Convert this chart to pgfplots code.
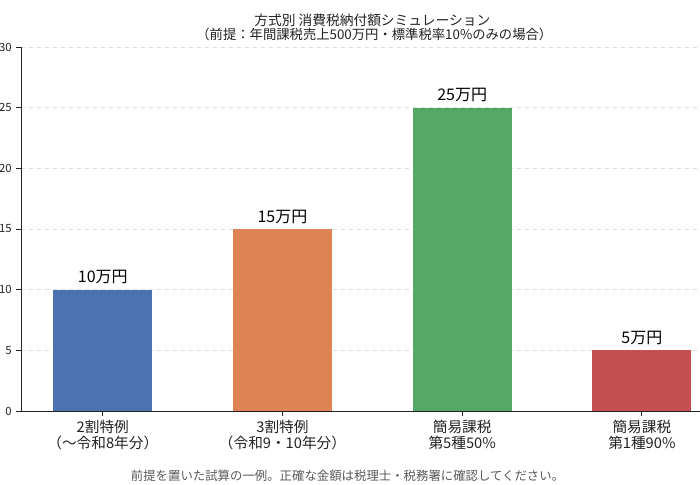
\documentclass[border=0pt]{standalone}
\usepackage{pgfplots}
\usepackage{fontspec}
\setmainfont{Noto Sans CJK JP}
\pgfplotsset{compat=1.18}
\usetikzlibrary{calc}

\definecolor{cblue}{HTML}{4C72B0}
\definecolor{corange}{HTML}{DD8452}
\definecolor{cgreen}{HTML}{55A868}
\definecolor{cred}{HTML}{C44E52}
\definecolor{gridgray}{HTML}{DDDDDD}
\definecolor{txt}{HTML}{222222}

\begin{document}
\begin{tikzpicture}
\begin{axis}[
    name=ax,
    at={(0,0)}, anchor=south west,
    scale only axis,
    width=527pt, height=273pt,
    xmin=-0.455, xmax=3.455,
    ymin=0, ymax=30,
    xtick={0,1,2,3},
    xticklabels={{2割特例\\（〜令和8年分）},{3割特例\\（令和9・10年分）},{簡易課税\\第5種50\%},{簡易課税\\第1種90\%}},
    xticklabel style={align=center, font=\fontsize{11}{11.5}\selectfont, text=txt},
    ytick={0,5,...,30},
    yticklabel style={font=\fontsize{8.5}{10}\selectfont, text=txt},
    /pgf/number format/assume math mode=true,
    axis x line*=bottom, axis y line*=left,
    axis line style={-, line width=0.7pt, color=txt},
    tick align=outside,
    major tick length=3.5pt,
    tick style={line width=0.7pt, color=txt},
    ymajorgrids,
    grid style={dashed, gridgray, line width=0.6pt},
    bar width=0.55,
    nodes near coords={\pgfmathprintnumber{\pgfplotspointmeta}万円},
    nodes near coords style={font=\fontsize{12}{14}\selectfont, text=black, anchor=south, inner sep=0pt, yshift=4pt},
    clip=false,
]
\addplot[ybar, bar shift=0pt, fill=cblue, draw=none] coordinates {(0,10)};
\addplot[ybar, bar shift=0pt, fill=corange, draw=none] coordinates {(1,15)};
\addplot[ybar, bar shift=0pt, fill=cgreen, draw=none] coordinates {(2,25)};
\addplot[ybar, bar shift=0pt, fill=cred, draw=none] coordinates {(3,5)};

% titles and footnote
\node[font=\fontsize{10.3}{12}\selectfont, text=txt, yshift=20.25pt] at (rel axis cs:0.5,1) {方式別\ 消費税納付額シミュレーション};
\node[font=\fontsize{10}{12}\selectfont, text=txt, xshift=1.5pt, yshift=9.75pt] at (rel axis cs:0.5,1) {（前提：年間課税売上500万円・標準税率10\%のみの場合）};
\node[font=\fontsize{9.3}{11}\selectfont, text=black!65, yshift=-48.75pt] at (rel axis cs:0.4647,0) {前提を置いた試算の一例。正確な金額は税理士・税務署に確認してください。};
\end{axis}
\pgfresetboundingbox
\path ($(ax.south west)+(-15.75pt,-55.5pt)$) rectangle ($(ax.south west)+(509.25pt,308.25pt)$);
\end{tikzpicture}
\end{document}
